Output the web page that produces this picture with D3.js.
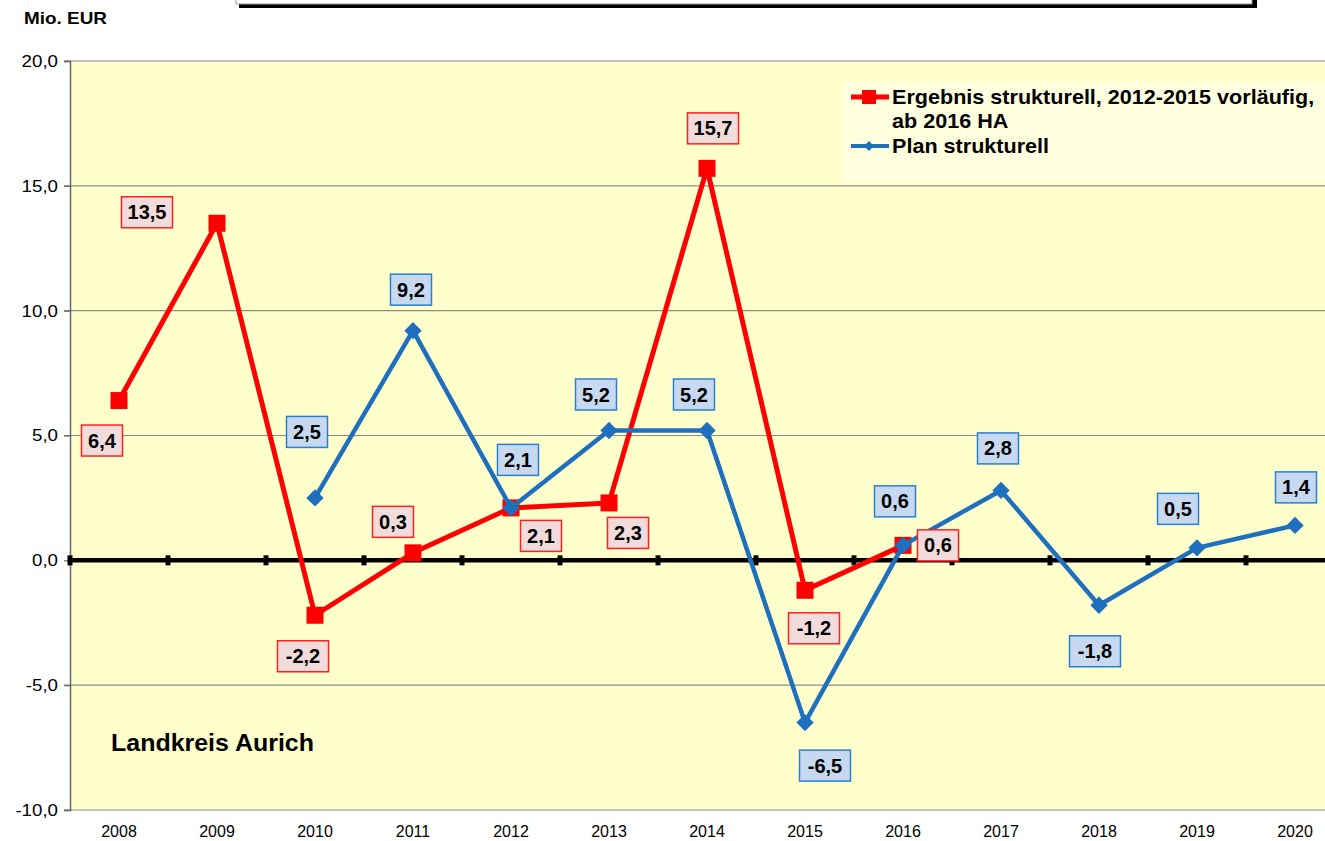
<!DOCTYPE html>
<meta charset="utf-8">
<style>

body {
  margin: 0;
  background: #fff;
  font-family: "Liberation Sans", Arial, sans-serif;
}

.grid line {
  stroke: #8c8c8c;
  stroke-width: 1.2;
}

.label text {
  font-weight: bold;
  font-size: 20px;
}

</style>
<body>
<script src="https://d3js.org/d3.v7.min.js"></script>
<script>

var years = ["2008", "2009", "2010", "2011", "2012", "2013", "2014",
             "2015", "2016", "2017", "2018", "2019", "2020"];

var ergebnis = [6.4, 13.5, -2.2, 0.3, 2.1, 2.3, 15.7, -1.2, 0.6,
                null, null, null, null];

var plan = [null, null, 2.5, 9.2, 2.1, 5.2, 5.2, -6.5, 0.6,
            2.8, -1.8, 0.5, 1.4];

var yTicks = [-10, -5, 0, 5, 10, 15, 20];

var seriesNames = ["Ergebnis strukturell, 2012-2015 vorläufig,", "ab 2016 HA", "Plan strukturell"];

// label box offsets (dx, dy) from the point, per year
var ergebnisLabelPos = [[-17, 40], [-70, -11], [-12, 41], [-20, -31], [30, 28],
                        [19, 30], [6, -40], [9, 38], [35, 0]];
var planLabelPos = [null, null, [-8, -66], [-2, -41], [7, -48], [-13, -36], [-13, -36],
                    [20, 43], [-8, -44], [-3, -42], [-4, 46], [-19, -39], [1, -38]];

var width = 1325, height = 841;
var plot = {left: 70, top: 61, bottom: 810, step: 98};

var de = d3.formatLocale({decimal: ",", thousands: ".", grouping: [3], currency: ["", " €"], minus: "-"});
var fmt = de.format(".1f");

var svg = d3.select("body").append("svg")
    .attr("width", width)
    .attr("height", height);

var x = d3.scaleBand()
    .domain(years)
    .range([plot.left, plot.left + plot.step * years.length]);

var y = d3.scaleLinear()
    .domain([-10, 20])
    .range([plot.bottom, plot.top]);

var cx = function(i) { return x(years[i]) + x.bandwidth() / 2; };

// title box, mostly outside the picture
svg.append("rect")
    .attr("x", 239).attr("y", -40)
    .attr("width", 1018).attr("height", 48)
    .attr("fill", "#000");
svg.append("rect")
    .attr("x", 236).attr("y", -42)
    .attr("width", 1016).attr("height", 46)
    .attr("fill", "#fff")
    .attr("stroke", "#999");

svg.append("text")
    .attr("x", 24).attr("y", 24)
    .attr("font-size", 16.5).attr("font-weight", "bold")
    .attr("textLength", 83).attr("lengthAdjust", "spacingAndGlyphs")
    .text("Mio. EUR");

// plot background
svg.append("rect")
    .attr("x", plot.left).attr("y", plot.top)
    .attr("width", width - plot.left).attr("height", plot.bottom - plot.top)
    .attr("fill", "#ffffcc");

// grid
svg.append("g")
    .attr("class", "grid")
  .selectAll("line")
    .data(yTicks.filter(function(d) { return d !== 0; }))
  .enter().append("line")
    .attr("x1", plot.left - 6).attr("x2", width)
    .attr("y1", function(d) { return y(d); })
    .attr("y2", function(d) { return y(d); });

// y axis
var yAxis = svg.append("g")
    .attr("transform", "translate(" + plot.left + ",0)")
    .call(d3.axisLeft(y).tickValues(yTicks).tickSize(6).tickPadding(6).tickFormat(fmt));
yAxis.attr("font-size", 17).attr("font-family", "Liberation Sans, Arial, sans-serif");
yAxis.select(".domain").attr("stroke", "#666").attr("stroke-width", 1.5);
yAxis.selectAll(".tick line").attr("stroke", "#666").attr("stroke-width", 1.2);
yAxis.selectAll(".tick text")
    .attr("fill", "#000")
    .each(function() {
      var len = this.getComputedTextLength();
      d3.select(this).attr("textLength", len * 1.1).attr("lengthAdjust", "spacingAndGlyphs");
    });

// zero line with category tick marks
svg.append("line")
    .attr("x1", plot.left).attr("x2", width)
    .attr("y1", y(0)).attr("y2", y(0))
    .attr("stroke", "#000").attr("stroke-width", 4.5);
svg.selectAll(".zerotick")
    .data(years)
  .enter().append("rect")
    .attr("class", "zerotick")
    .attr("x", function(d) { return x(d) - 2.5; })
    .attr("y", y(0) - 5)
    .attr("width", 5).attr("height", 10)
    .attr("fill", "#000");

// x labels
svg.selectAll(".xlabel")
    .data(years)
  .enter().append("text")
    .attr("class", "xlabel")
    .attr("x", function(d, i) { return cx(i); })
    .attr("y", 837)
    .attr("text-anchor", "middle")
    .attr("font-size", 16)
    .text(function(d) { return d; });

svg.append("text")
    .attr("x", 111).attr("y", 751)
    .attr("font-size", 24).attr("font-weight", "bold")
    .attr("textLength", 203).attr("lengthAdjust", "spacingAndGlyphs")
    .text("Landkreis Aurich");

// lines
var line = d3.line()
    .defined(function(d) { return d !== null; })
    .x(function(d, i) { return cx(i); })
    .y(function(d) { return y(d); });

var red = "#ff0000", blue = "#1f6fbf";

svg.append("path")
    .datum(ergebnis)
    .attr("d", line)
    .attr("fill", "none").attr("stroke", red).attr("stroke-width", 5)
    .attr("stroke-linejoin", "round");

svg.selectAll(".sq")
    .data(ergebnis.map(function(d, i) { return {v: d, i: i}; }).filter(function(d) { return d.v !== null; }))
  .enter().append("rect")
    .attr("class", "sq")
    .attr("x", function(d) { return cx(d.i) - 8.5; })
    .attr("y", function(d) { return y(d.v) - 8.5; })
    .attr("width", 17).attr("height", 17)
    .attr("fill", red);

svg.append("path")
    .datum(plan)
    .attr("d", line)
    .attr("fill", "none").attr("stroke", blue).attr("stroke-width", 4.5)
    .attr("stroke-linejoin", "round");

svg.selectAll(".dm")
    .data(plan.map(function(d, i) { return {v: d, i: i}; }).filter(function(d) { return d.v !== null; }))
  .enter().append("path")
    .attr("class", "dm")
    .attr("transform", function(d) { return "translate(" + cx(d.i) + "," + y(d.v) + ") rotate(45)"; })
    .attr("d", d3.symbol().type(d3.symbolSquare).size(150))
    .attr("fill", blue);

// data labels
function drawLabels(values, offsets, fill, stroke) {
  var g = svg.append("g").attr("class", "label");
  values.forEach(function(v, i) {
    if (v === null) return;
    var txt = fmt(v);
    var w = txt.length * 10 + 11;
    var px = cx(i) + offsets[i][0], py = y(v) + offsets[i][1];
    g.append("rect")
      .attr("x", px - w / 2).attr("y", py - 15.5)
      .attr("width", w).attr("height", 31)
      .attr("fill", fill).attr("stroke", stroke).attr("stroke-width", 1.5);
    g.append("text")
      .attr("x", px).attr("y", py + 7)
      .attr("text-anchor", "middle")
      .text(txt);
  });
}

drawLabels(ergebnis, ergebnisLabelPos, "#f2dcdb", "#ff2020");
drawLabels(plan, planLabelPos, "#c6d9f1", "#2a7fd0");

// legend
var legend = svg.append("g");
legend.append("rect")
    .attr("x", 843).attr("y", 82)
    .attr("width", 500).attr("height", 100)
    .attr("fill", "#ffffe0");
legend.append("line")
    .attr("x1", 851).attr("x2", 889).attr("y1", 97).attr("y2", 97)
    .attr("stroke", red).attr("stroke-width", 5);
legend.append("rect")
    .attr("x", 862).attr("y", 90).attr("width", 14).attr("height", 14)
    .attr("fill", red);
legend.append("line")
    .attr("x1", 851).attr("x2", 889).attr("y1", 146).attr("y2", 146)
    .attr("stroke", blue).attr("stroke-width", 4);
legend.append("path")
    .attr("transform", "translate(869,146) rotate(45)")
    .attr("d", d3.symbol().type(d3.symbolSquare).size(50))
    .attr("fill", blue);
legend.append("g")
    .attr("transform", "translate(892,0) scale(1.08,1)")
  .selectAll("text")
    .data(seriesNames)
  .enter().append("text")
    .attr("x", 0)
    .attr("y", function(d, i) { return [104, 128, 153][i]; })
    .attr("font-size", 20).attr("font-weight", "bold")
    .text(function(d) { return d; });

</script>
